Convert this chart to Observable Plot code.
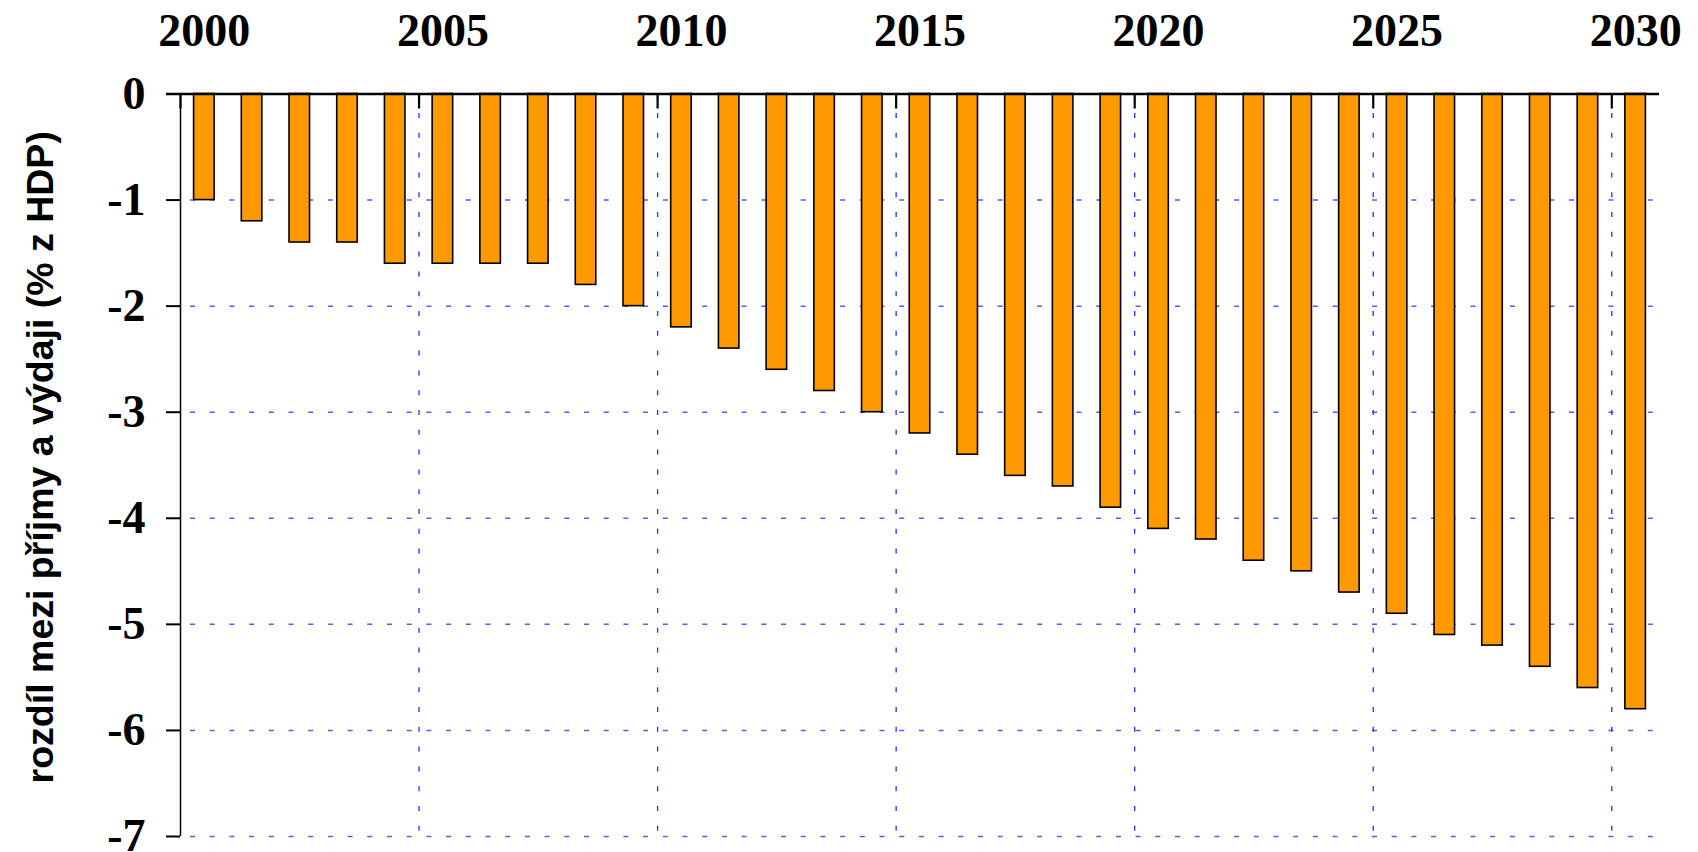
<!DOCTYPE html>
<html>
<head>
<meta charset="utf-8">
<script src="https://cdn.jsdelivr.net/npm/d3@7"></script>
<script src="https://cdn.jsdelivr.net/npm/@observablehq/plot@0.6"></script>
<style>
  html, body { margin: 0; padding: 0; background: #fff; }
  #chart svg { display: block; }
</style>
</head>
<body>
<div id="chart"></div>
<script>
// ---- data ----
const years = [2000, 2001, 2002, 2003, 2004, 2005, 2006, 2007, 2008, 2009,
               2010, 2011, 2012, 2013, 2014, 2015, 2016, 2017, 2018, 2019,
               2020, 2021, 2022, 2023, 2024, 2025, 2026, 2027, 2028, 2029, 2030];
const values = [-1.0, -1.2, -1.4, -1.4, -1.6, -1.6, -1.6, -1.6, -1.8, -2.0,
                -2.2, -2.4, -2.6, -2.8, -3.0, -3.2, -3.4, -3.6, -3.7, -3.9,
                -4.1, -4.2, -4.4, -4.5, -4.7, -4.9, -5.1, -5.2, -5.4, -5.6, -5.8];
const labelYears = [2000, 2005, 2010, 2015, 2020, 2025, 2030];
const yTicks = [0, -1, -2, -3, -4, -5, -6, -7];
const yTitle = "rozdíl mezi příjmy a výdaji (% z HDP)";

// ---- layout ----
const W = 1698, H = 852;
const mL = 180, mR = 39, mT = 93.5, mB = 16;
const plotH = H - mT - mB;

const data = years.map((year, i) => ({year, value: values[i]}));

const chart = Plot.plot({
  width: W,
  height: H,
  marginLeft: mL,
  marginRight: mR,
  marginTop: mT,
  marginBottom: mB,
  x: {type: "linear", domain: [2000, 2031], axis: null},
  y: {domain: [-7, 0], axis: null},
  style: {background: "#fff", overflow: "visible"},
  marks: [
    // horizontal dashed grid
    Plot.ruleY(yTicks.filter(d => d < 0), {
      stroke: "#5a5aff", strokeWidth: 1.5,
      strokeDasharray: "5,14.7", strokeDashoffset: 9.7
    }),
    // vertical dotted grid
    Plot.ruleX(labelYears.filter(d => d > 2000), {
      stroke: "#2a2aff", strokeWidth: 1.3,
      strokeDasharray: "5,14.8", strokeDashoffset: 0.3
    }),
    // bars
    Plot.rect(data, {
      x1: d => d.year, x2: d => d.year + 1,
      y1: d => 0, y2: "value",
      insetLeft: 13.6, insetRight: 13.6,
      fill: "#ff9900", stroke: "#000", strokeWidth: 1.6
    }),
    // y axis line
    Plot.ruleX([2000], {stroke: "#000", strokeWidth: 1.5}),
    // top ticks (pointing down from the zero line)
    Plot.ruleX(labelYears, {stroke: "#000", strokeWidth: 2.2, insetBottom: plotH - 15}),
    // zero line
    Plot.ruleY([0], {stroke: "#000", strokeWidth: 2.3, insetLeft: -14}),
    // left axis
    Plot.axisY({
      ticks: yTicks, tickSize: 14, tickPadding: 21,
      tickFormat: d => String(d),
      fontSize: 46, fontWeight: "bold", fontFamily: "Liberation Serif",
      label: null, stroke: "#000", strokeWidth: 2, fill: "#000"
    }),
    // top year labels
    Plot.text(labelYears, {
      x: d => d + 0.5, y: d => 0, text: d => String(d),
      dy: -48.5, lineAnchor: "bottom",
      fontSize: 46, fontWeight: "bold", fontFamily: "Liberation Serif", fill: "#000"
    }),
    // y title
    Plot.text([yTitle], {
      frameAnchor: "left", rotate: -90, dx: 52 - mL, dy: -8,
      lineAnchor: "bottom", textAnchor: "middle",
      fontSize: 37.5, fontWeight: "bold", fontFamily: "Liberation Sans", fill: "#000"
    })
  ]
});
document.getElementById("chart").appendChild(chart);
</script>
</body>
</html>
